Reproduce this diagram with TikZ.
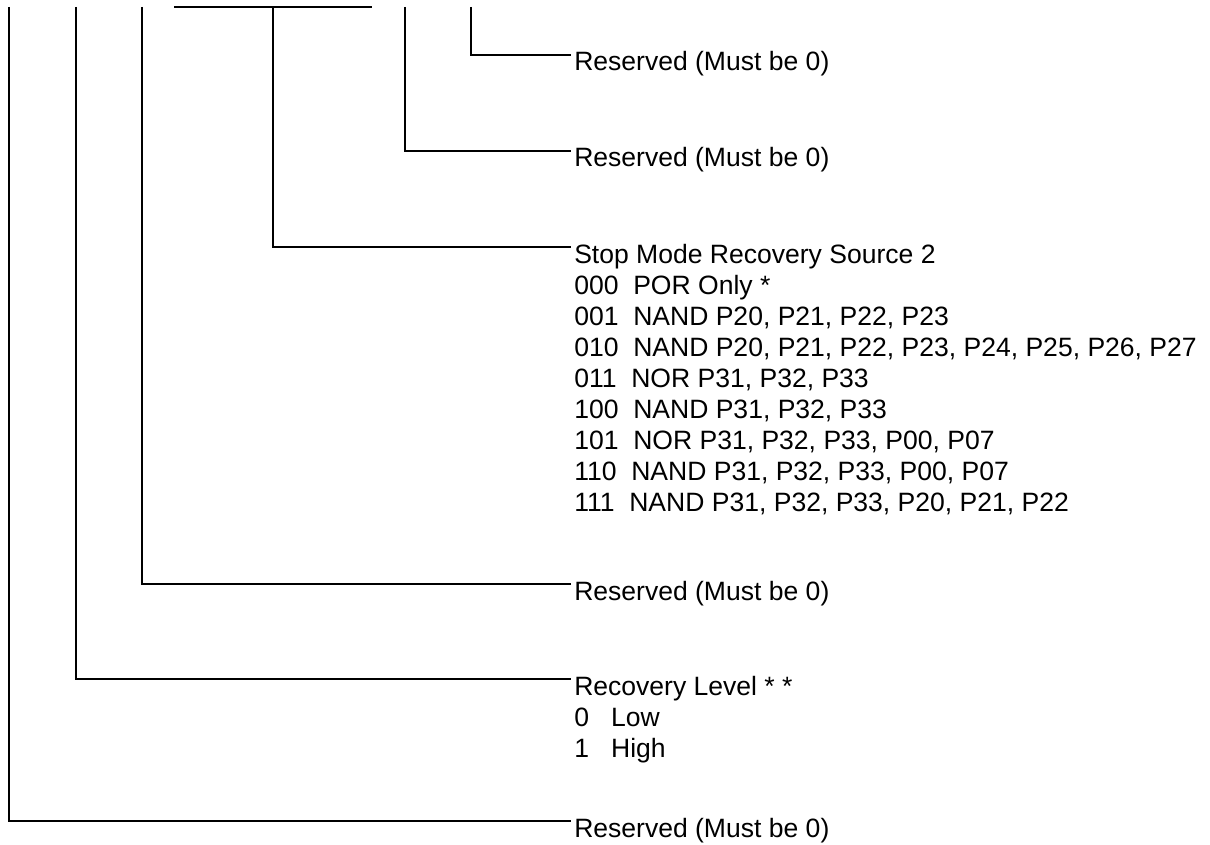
\documentclass[tikz,border=0pt]{standalone}
\usepackage{fontspec}
\setmainfont{Liberation Sans}

\begin{document}
\begin{tikzpicture}[
    x=0.75pt, y=-0.75pt,
    wire/.style={line width=0.8pt},
    lbl/.style={anchor=base west, inner sep=0pt,
                font=\fontsize{19.9}{23.25}\selectfont},
  ]
  \useasboundingbox (0,0) rectangle (1210,845);
  % bit taps along the top edge
  \coordinate (b7)   at (9,7);
  \coordinate (b6)   at (76,7);
  \coordinate (b5)   at (142,7);
  \coordinate (srcl) at (174,7);
  \coordinate (srcm) at (273,7);
  \coordinate (srcr) at (372,7);
  \coordinate (b1)   at (405,7);
  \coordinate (b0)   at (471,7);
  % field descriptions
  \node[lbl] (res0) at (574,71)  {Reserved (Must be 0)};
  \node[lbl] (res1) at (574,167) {Reserved (Must be 0)};
  \node[lbl] (src)  at (574,263) {\begin{tabular}[t]{@{}l@{}}
    Stop Mode Recovery Source 2\\
    000\ \ POR Only *\\
    001\ \ NAND P20, P21, P22, P23\\
    010\ \ NAND P20, P21, P22, P23, P24, P25, P26, P27\\
    011\ \ NOR P31, P32, P33\\
    100\ \ NAND P31, P32, P33\\
    101\ \ NOR P31, P32, P33, P00, P07\\
    110\ \ NAND P31, P32, P33, P00, P07\\
    111\ \ NAND P31, P32, P33, P20, P21, P22
  \end{tabular}};
  \node[lbl] (res5) at (574,600) {Reserved (Must be 0)};
  \node[lbl] (lvl)  at (574,695) {\begin{tabular}[t]{@{}l@{}}
    Recovery Level * *\\
    0\ \ \ Low\\
    1\ \ \ High
  \end{tabular}};
  \node[lbl] (res7) at (574,837) {Reserved (Must be 0)};
  % connectors
  \draw[wire] (srcl) -- (srcr);
  \draw[wire] (b0)   |- ([xshift=-2pt,yshift=12pt]res0.base west);
  \draw[wire] (b1)   |- ([xshift=-2pt,yshift=12pt]res1.base west);
  \draw[wire] (srcm) |- ([xshift=-2pt,yshift=12pt]src.base west);
  \draw[wire] (b5)   |- ([xshift=-2pt,yshift=12pt]res5.base west);
  \draw[wire] (b6)   |- ([xshift=-2pt,yshift=12pt]lvl.base west);
  \draw[wire] (b7)   |- ([xshift=-2pt,yshift=12pt]res7.base west);
\end{tikzpicture}
\end{document}
